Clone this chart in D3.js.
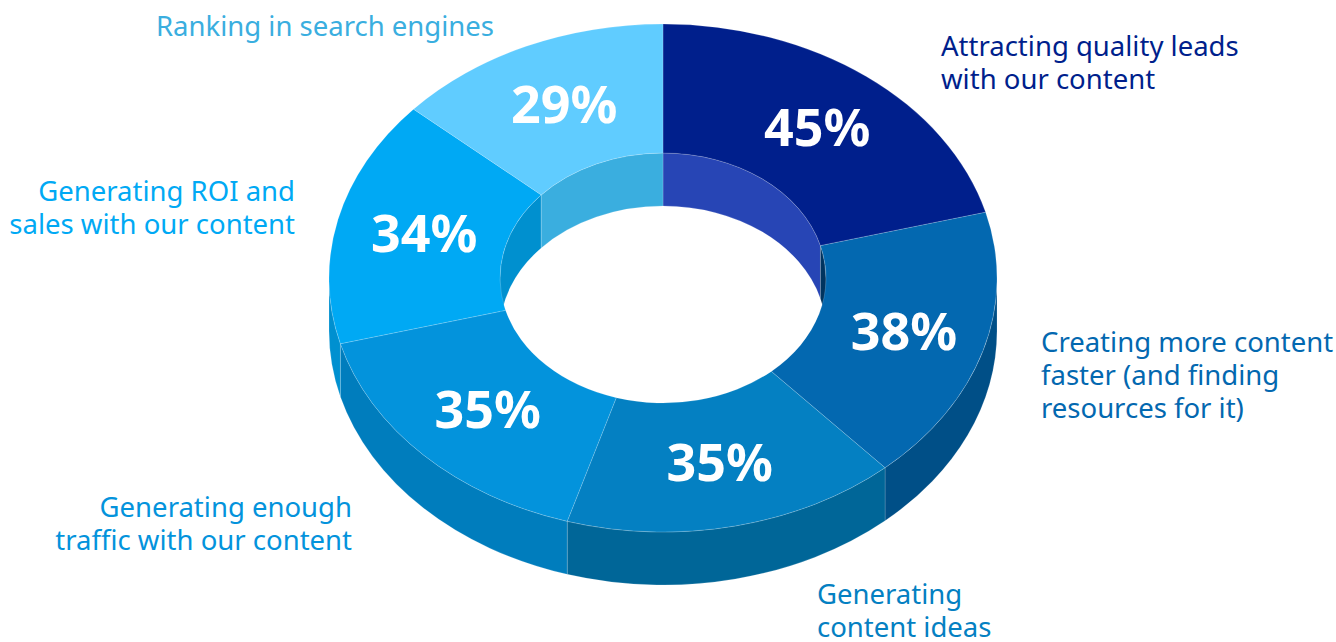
<!DOCTYPE html>
<meta charset="utf-8">

<!-- Load d3.js -->
<script src="https://d3js.org/d3.v7.min.js"></script>

<style>
  body { margin: 0; background: #fff; }
  svg { display: block; }
  text { font-family: "Noto Sans", sans-serif; }
</style>

<!-- Create a div where the graph will take place -->
<div id="my_dataviz"></div>

<script>

// the data, clockwise from 12 o'clock
var categories = [
  ["Attracting quality leads", "with our content"],
  ["Creating more content", "faster (and finding", "resources for it)"],
  ["Generating", "content ideas"],
  ["Generating enough", "traffic with our content"],
  ["Generating ROI and", "sales with our content"],
  ["Ranking in search engines"]
]
var values = [45, 38, 35, 35, 34, 29]

// colours per slice
var topColors = ["#001f8c", "#0368b0", "#0480c2", "#0393dc", "#00a9f4", "#60ccff"]
var wallColors = ["#001f8c", "#004f87", "#006698", "#007dbd", "#0090d0", "#60ccff"]
var holeColors = ["#2745b5", "#00345f", "#0480c2", "#0393dc", "#0090cf", "#3aaedf"]
var labelColors = ["#001f8c", "#0368b0", "#0480c2", "#0393dc", "#00a9f4", "#3aaedf"]

// where the category labels go: x, first baseline, anchor
var labelLayout = [
  {x: 941, y: 56, anchor: "start"},
  {x: 1041, y: 352, anchor: "start"},
  {x: 817, y: 604, anchor: "start"},
  {x: 352, y: 517, anchor: "end"},
  {x: 295, y: 201, anchor: "end"},
  {x: 494, y: 36, anchor: "end"}
]

var width = 1336, height = 642
var cx = 663, cy = 278
var outerX = 334, outerY = 254
var innerX = 163, innerY = 125
var depth = 53
var lineHeight = 33

var svg = d3.select("#my_dataviz")
  .append("svg")
    .attr("width", width)
    .attr("height", height)

var pie = d3.pie().sort(null).value(function(d) { return d })
var slices = pie(values)

// point on an ellipse, angle measured clockwise from the top like d3.pie
function px(a, rx) { return cx + rx * Math.sin(a) }
function py(a, ry, dy) { return cy - ry * Math.cos(a) + (dy || 0) }

function arcTo(a0, a1, rx, ry, dy) {
  var large = Math.abs(a1 - a0) > Math.PI ? 1 : 0
  var sweep = a1 > a0 ? 1 : 0
  return "A" + rx + "," + ry + " 0 " + large + " " + sweep + " " + px(a1, rx) + "," + py(a1, ry, dy)
}

// top face of a slice
function facePath(d) {
  return "M" + px(d.startAngle, outerX) + "," + py(d.startAngle, outerY)
    + arcTo(d.startAngle, d.endAngle, outerX, outerY)
    + "L" + px(d.endAngle, innerX) + "," + py(d.endAngle, innerY)
    + arcTo(d.endAngle, d.startAngle, innerX, innerY)
    + "Z"
}

// band between an arc and the same arc pushed down by the depth
function wallPath(a0, a1, rx, ry) {
  return "M" + px(a0, rx) + "," + py(a0, ry)
    + arcTo(a0, a1, rx, ry)
    + "L" + px(a1, rx) + "," + py(a1, ry, depth)
    + arcTo(a1, a0, rx, ry, depth)
    + "Z"
}

// cut a slice's angles to a visible range
function clip(d, from, to) {
  var a0 = Math.max(d.startAngle, from), a1 = Math.min(d.endAngle, to)
  return a1 > a0 ? [a0, a1] : null
}

var edge = "rgba(255,255,255,0.28)"

// Outer wall, only the front half can be seen
var outerWalls = []
slices.forEach(function(d) {
  var r = clip(d, Math.PI / 2, 3 * Math.PI / 2)
  if (r) outerWalls.push({i: d.index, r: r})
})
svg.append("g")
  .selectAll("path")
  .data(outerWalls)
  .enter()
  .append("path")
    .attr("d", function(d) { return wallPath(d.r[0], d.r[1], outerX, outerY) })
    .attr("fill", function(d) { return wallColors[d.i] })
    .attr("stroke", edge)
    .attr("stroke-width", 0.6)

// Inner wall, only the back half can be seen
var innerWalls = []
slices.forEach(function(d) {
  var r = clip(d, 0, Math.PI / 2) || clip(d, 3 * Math.PI / 2, 2 * Math.PI)
  if (r) innerWalls.push({i: d.index, r: r})
})
svg.append("g")
  .selectAll("path")
  .data(innerWalls)
  .enter()
  .append("path")
    .attr("d", function(d) { return wallPath(d.r[0], d.r[1], innerX, innerY) })
    .attr("fill", function(d) { return holeColors[d.i] })
    .attr("stroke", edge)
    .attr("stroke-width", 0.6)

// Top faces go last and hide whatever the walls overshoot
svg.append("g")
  .selectAll("path")
  .data(slices)
  .enter()
  .append("path")
    .attr("d", facePath)
    .attr("fill", function(d) { return topColors[d.index] })
    .attr("stroke", edge)
    .attr("stroke-width", 0.6)

// Percent labels in the middle of each slice
svg.append("g")
  .selectAll("text")
  .data(slices)
  .enter()
  .append("text")
    .attr("x", function(d) {
      return px((d.startAngle + d.endAngle) / 2, (outerX + innerX) / 2) + 3
    })
    .attr("y", function(d) {
      return py((d.startAngle + d.endAngle) / 2, (outerY + innerY) / 2) + 18
    })
    .attr("text-anchor", "middle")
    .attr("fill", "#fff")
    .style("font-size", "52px")
    .style("font-weight", 700)
    .text(function(d) { return d.value + "%" })

// Category labels
var labels = svg.append("g")
  .selectAll("text")
  .data(categories)
  .enter()
  .append("text")
    .attr("x", function(d, i) { return labelLayout[i].x })
    .attr("y", function(d, i) { return labelLayout[i].y })
    .attr("text-anchor", function(d, i) { return labelLayout[i].anchor })
    .attr("fill", function(d, i) { return labelColors[i] })
    .style("font-size", "27.5px")

labels.selectAll("tspan")
  .data(function(d, i) { return d.map(function(line, n) { return {line: line, n: n, i: i} }) })
  .enter()
  .append("tspan")
    .attr("x", function(d) { return labelLayout[d.i].x })
    .attr("y", function(d) { return labelLayout[d.i].y + d.n * lineHeight })
    .text(function(d) { return d.line })

</script>
